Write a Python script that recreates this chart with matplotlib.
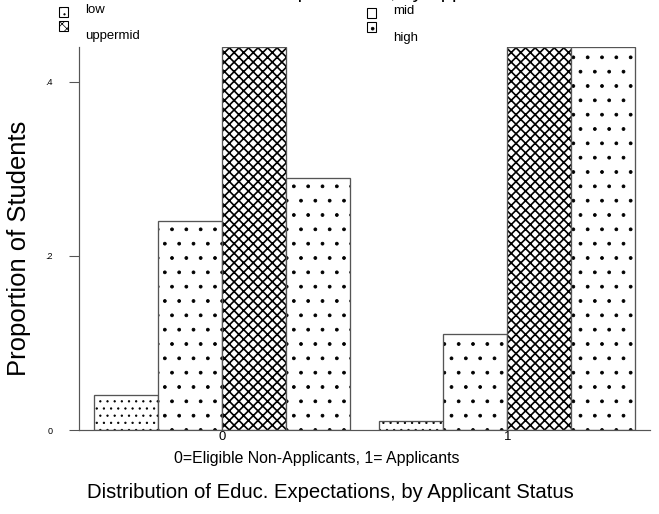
import numpy as np
import matplotlib
matplotlib.use('Agg')
import matplotlib.pyplot as plt
from matplotlib.patches import Rectangle

plt.rcParams['font.family'] = ['Liberation Sans', 'DejaVu Sans']

# proportion of students in each expectation level, by applicant status
groups = [0, 1]
levels = ['low', 'mid', 'uppermid', 'high']
low = [0.04, 0.01]
mid = [0.24, 0.11]
uppermid = [0.44, 0.44]
high = [0.29, 0.44]
series = [low, mid, uppermid, high]
hatches = ['..', '.', 'xxx', '.']
yticks = [0, 0.2, 0.4]
yticklabels = ['0', '.2', '.4']

DPI = 86
fig = plt.figure(figsize=(659 / DPI, 514 / DPI), dpi=DPI)
ax = fig.add_axes([79 / 659, 1 - 430 / 514, (650 - 79) / 659, (430 - 47) / 514])

w = 0.2246
x = np.array(groups, dtype=float)
edge = '#555555'
for i, (vals, h) in enumerate(zip(series, hatches)):
    pos = x + (i - 1.5) * w
    with plt.rc_context({'hatch.linewidth': 0.7 if h != 'xxx' else 1.4}):
        ax.bar(pos, vals, w, color='white', edgecolor='black', linewidth=0, hatch=h)
    ax.bar(pos, vals, w, fill=False, edgecolor=edge, linewidth=1.1)

ax.set_xlim(-0.5, 1.5)
ax.set_ylim(0, 0.44)
ax.spines['top'].set_visible(False)
ax.spines['right'].set_visible(False)
for s in ['left', 'bottom']:
    ax.spines[s].set_color(edge)
    ax.spines[s].set_linewidth(1.0)

ax.set_yticks(yticks)
ax.set_yticklabels(yticklabels, fontsize=7.5)
ax.tick_params(axis='y', length=8, width=0.9, color=edge, pad=14)
ax.set_xticks(groups)
ax.set_xticklabels(['0', '1'], fontsize=11)
ax.tick_params(axis='x', length=0, pad=1)

ax.set_ylabel('Proportion of Students', fontsize=21.5)
ax.yaxis.set_label_coords(-0.084, 0.475)
ax.set_xlabel('0=Eligible Non-Applicants, 1= Applicants', fontsize=13.3)
ax.xaxis.set_label_coords(0.417, -0.056)

title = 'Distribution of Educ. Expectations, by Applicant Status'
fig.text(330 / 659, 1 - 492 / 514, title, ha='center', va='center', fontsize=17)
# clipped copy at the very top edge
fig.text(330 / 659, 1 + 2 / 514, title, ha='center', va='baseline', fontsize=17)

# legend drawn by hand
leg = [
    ('low', 63, 12, 85, 10, '..'),
    ('uppermid', 63, 26, 85, 36, 'xxx'),
    ('mid', 371, 13, 393, 11, '.'),
    ('high', 371, 27, 393, 38, '.'),
]
for name, sx, sy, tx, ty, h in leg:
    bw, bh = 9, 9
    with plt.rc_context({'hatch.linewidth': 0.6}):
        fig.patches.append(Rectangle(((sx - bw / 2) / 659, 1 - (sy + bh / 2) / 514), bw / 659, bh / 514,
                                     transform=fig.transFigure, facecolor='white',
                                     edgecolor='black', linewidth=0.9, hatch=h))
    fig.text(tx / 659, 1 - ty / 514, name, ha='left', va='center', fontsize=11)

fig.savefig('out.png', dpi=DPI)
